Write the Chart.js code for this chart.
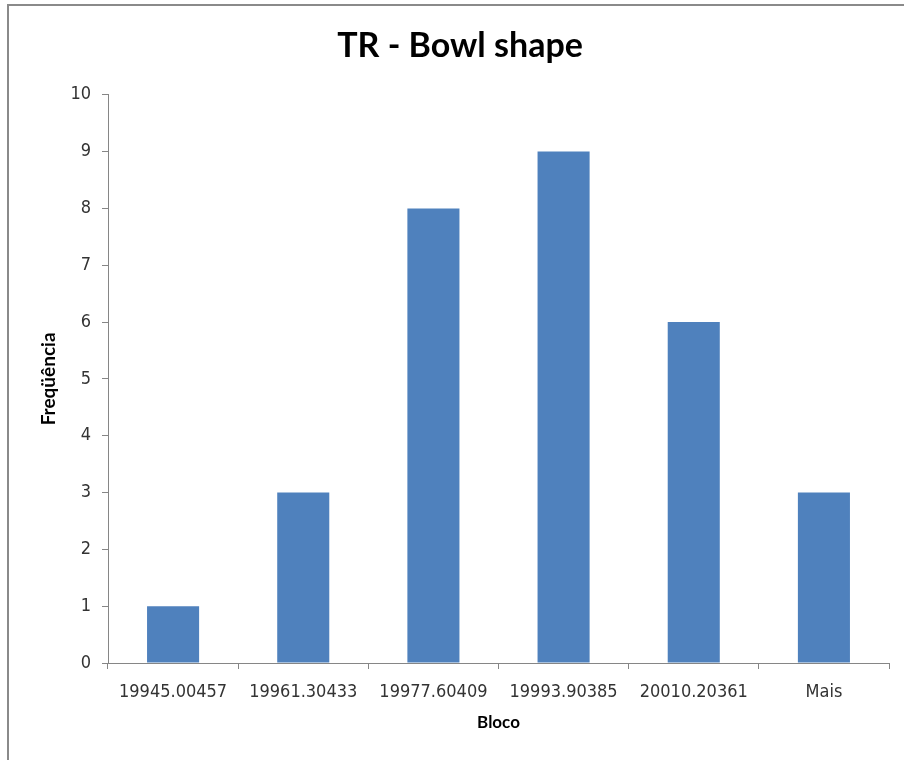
<!DOCTYPE html>
<html>
<head>
<meta charset="utf-8">
<title>TR - Bowl shape</title>
<script src="https://cdn.jsdelivr.net/npm/chart.js@4/dist/chart.umd.min.js"></script>
<style>
  html, body { margin: 0; padding: 0; background: #ffffff; }
  #wrap { width: 904px; height: 760px; position: relative; }
</style>
</head>
<body>
<div id="wrap"><canvas id="chart" width="904" height="760"></canvas></div>
<script>
// Histogram bins (upper edges) and their frequencies
const categories = ['19945.00457', '19961.30433', '19977.60409', '19993.90385', '20010.20361', 'Mais'];
const frequencies = [1, 3, 8, 9, 6, 3];
const yMin = 0;
const yMax = 10;
const yStep = 1;

const axisGray = '#868686';
const labelColor = '#333333';
const tickFont = { family: '"DejaVu Sans Condensed", "DejaVu Sans", sans-serif', size: 18 };

// Frame line along the top and left edges of the chart object
const framePlugin = {
  id: 'frame',
  beforeDraw(chart) {
    const ctx = chart.ctx;
    ctx.save();
    ctx.fillStyle = '#ffffff';
    ctx.fillRect(0, 0, chart.width, chart.height);
    ctx.strokeStyle = '#8a8a8a';
    ctx.lineWidth = 2;
    ctx.beginPath();
    ctx.moveTo(8, chart.height);
    ctx.lineTo(8, 5);
    ctx.lineTo(chart.width, 5);
    ctx.stroke();
    ctx.restore();
  }
};

const padLeft = 31;

new Chart(document.getElementById('chart'), {
  type: 'bar',
  data: {
    labels: categories,
    datasets: [{
      label: 'Freqüência',
      data: frequencies,
      backgroundColor: '#4F81BD',
      borderWidth: 0,
      barPercentage: 0.4,
      categoryPercentage: 1.0
    }]
  },
  options: {
    responsive: false,
    animation: false,
    layout: { padding: { left: padLeft, right: 15, top: 0, bottom: 0 } },
    plugins: {
      legend: { display: false },
      tooltip: { enabled: false },
      title: {
        display: true,
        text: 'TR - Bowl shape',
        color: '#000000',
        font: { family: 'Lato, "Open Sans", sans-serif', size: 34, weight: 'bold' },
        padding: { top: 26, bottom: 28 }
      }
    },
    scales: {
      x: {
        grid: {
          display: true,
          drawOnChartArea: false,
          drawTicks: true,
          tickLength: 6,
          color: axisGray,
          offset: true
        },
        border: { display: true, color: axisGray, width: 1 },
        ticks: { color: labelColor, font: tickFont, padding: 13, maxRotation: 0, autoSkip: false },
        title: {
          display: true,
          text: 'Bloco',
          color: '#000000',
          font: { family: 'Lato, "Open Sans", sans-serif', size: 17, weight: 'bold' },
          padding: { top: 0, bottom: 27 }
        },
        afterFit(scale) { scale.height = 97; }
      },
      y: {
        min: yMin,
        max: yMax,
        grid: {
          display: true,
          drawOnChartArea: false,
          drawTicks: true,
          tickLength: 6,
          color: axisGray
        },
        border: { display: true, color: axisGray, width: 1 },
        ticks: { stepSize: yStep, color: labelColor, font: tickFont, padding: 11 },
        title: {
          display: true,
          text: 'Freqüência',
          color: '#000000',
          font: { family: 'Lato, "Open Sans", sans-serif', size: 19, weight: 'bold' },
          padding: { top: 49 - padLeft - 11.4, bottom: 0 }
        },
        afterFit(scale) { scale.width = 108 - padLeft; }
      }
    }
  },
  plugins: [framePlugin]
});
</script>
</body>
</html>
